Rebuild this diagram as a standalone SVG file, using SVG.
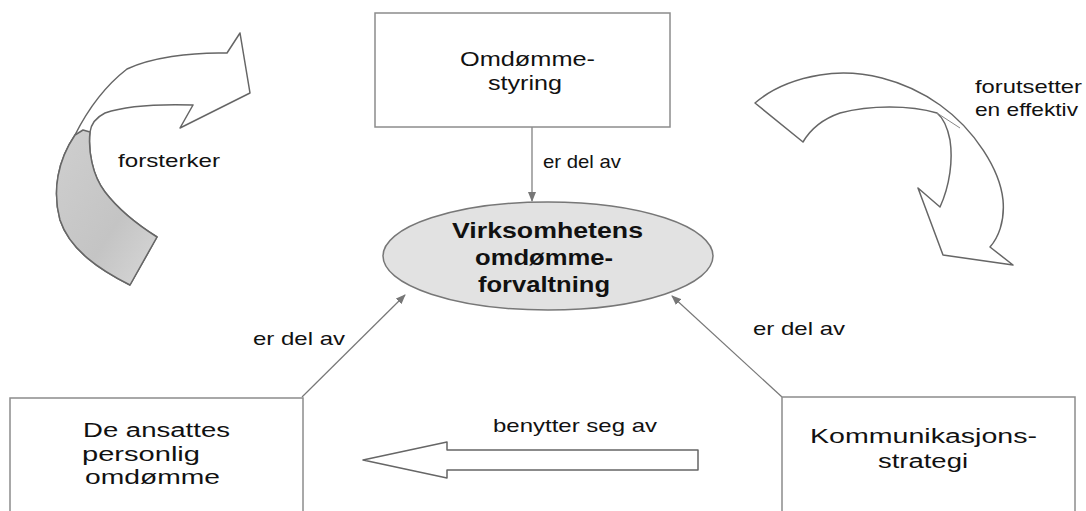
<svg xmlns="http://www.w3.org/2000/svg" width="1086" height="511" viewBox="0 0 1086 511">
<style>
.box{fill:#ffffff;stroke:#8c8c8c;stroke-width:1.5}
.t{font-family:"Liberation Sans",Arial,sans-serif;fill:#111}
.lbl{font-size:19px}
.node{font-size:20px}
.bold{font-size:22px;font-weight:bold}
.con{stroke:#777;stroke-width:1.2;fill:none}
.shape{fill:#ffffff;stroke:#666;stroke-width:1.5;stroke-linejoin:round}
</style>
<defs>
<marker id="ah" markerWidth="10" markerHeight="8" refX="9" refY="4" orient="auto" markerUnits="userSpaceOnUse">
<path d="M0,0 L10,4 L0,8 Z" fill="#777"/>
</marker>
<linearGradient id="g1" x1="0" y1="0" x2="1" y2="1">
<stop offset="0" stop-color="#cfcfcf"/>
<stop offset="0.6" stop-color="#c4c4c4"/>
<stop offset="1" stop-color="#d8d8d8"/>
</linearGradient>
</defs>

<g id="connectors">
<line class="con" x1="532" y1="127" x2="532" y2="201" marker-end="url(#ah)"/>
<line class="con" x1="302" y1="397" x2="405" y2="295" marker-end="url(#ah)"/>
<line class="con" x1="782" y1="397" x2="672" y2="296" marker-end="url(#ah)"/>
<text class="t lbl" x="543" y="168" textLength="78" lengthAdjust="spacingAndGlyphs">er del av</text>
<text class="t lbl" x="253" y="345" textLength="92" lengthAdjust="spacingAndGlyphs">er del av</text>
<text class="t lbl" x="753" y="335" textLength="92" lengthAdjust="spacingAndGlyphs">er del av</text>
</g>

<g id="node-omdommestyring">
<rect class="box" x="375" y="13" width="295" height="114"/>
<text class="t node" x="460" y="66" textLength="135" lengthAdjust="spacingAndGlyphs">Omdømme-</text>
<text class="t node" x="488" y="90" textLength="74" lengthAdjust="spacingAndGlyphs">styring</text>
</g>

<g id="node-forvaltning">
<ellipse cx="548" cy="256" rx="165" ry="54" fill="#e2e2e2" stroke="#777" stroke-width="1.5"/>
<text class="t bold" x="452" y="238" textLength="191" lengthAdjust="spacingAndGlyphs">Virksomhetens</text>
<text class="t bold" x="475" y="265" textLength="138" lengthAdjust="spacingAndGlyphs">omdømme-</text>
<text class="t bold" x="478" y="292" textLength="132" lengthAdjust="spacingAndGlyphs">forvaltning</text>
</g>

<g id="node-ansatte">
<rect class="box" x="10" y="398" width="293" height="130"/>
<text class="t node" x="83" y="437" textLength="147" lengthAdjust="spacingAndGlyphs">De ansattes</text>
<text class="t node" x="82" y="461" textLength="118" lengthAdjust="spacingAndGlyphs">personlig</text>
<text class="t node" x="85" y="484" textLength="135" lengthAdjust="spacingAndGlyphs">omdømme</text>
</g>

<g id="node-kommunikasjon">
<rect class="box" x="782" y="397" width="293" height="130"/>
<text class="t node" x="810" y="443" textLength="227" lengthAdjust="spacingAndGlyphs">Kommunikasjons-</text>
<text class="t node" x="878" y="468" textLength="90" lengthAdjust="spacingAndGlyphs">strategi</text>
</g>

<g id="arrow-benytter">
<path class="shape" d="M363,460 L447,442 L447,450 L698,450 L698,470 L447,470 L447,478 Z"/>
<text class="t lbl" x="493" y="432" textLength="164" lengthAdjust="spacingAndGlyphs">benytter seg av</text>
</g>

<g id="arrow-forsterker">
<path class="shape" d="M227,53 L240,33 L250,93 L180,128 L193,105 C160,104 125,106 105,113 C95,118 91,125 90,132 C88,150 92,175 105,192 C115,205 130,220 157,237 L130,285 C100,270 70,250 60,220 C52,190 58,160 75,135 C85,115 100,90 127,69 C150,58 190,52 227,53 Z"/>
<path d="M90,132 C88,150 92,175 105,192 C115,205 130,220 157,237 L130,285 C100,270 70,250 60,220 C52,190 58,160 75,135 L83,130 Z" fill="url(#g1)" stroke="#666" stroke-width="1.5" stroke-linejoin="round"/>
<text class="t lbl" x="118" y="167" textLength="102" lengthAdjust="spacingAndGlyphs">forsterker</text>
</g>

<g id="arrow-forutsetter">
<path class="shape" d="M755,103 C770,90 790,80 820,75 C860,68 905,80 940,105 C975,130 1000,170 1003,200 C1005,222 998,238 990,247 L1013,265 L943,255 L918,188 L940,207 C950,185 953,160 950,140 C947,125 942,117 937,113 C910,105 870,105 840,113 C820,120 810,130 803,142 Z"/>
<line x1="937" y1="113" x2="960" y2="128" stroke="#888" stroke-width="1"/>
<text class="t lbl" x="975" y="93" textLength="107" lengthAdjust="spacingAndGlyphs">forutsetter</text>
<text class="t lbl" x="975" y="116" textLength="103" lengthAdjust="spacingAndGlyphs">en effektiv</text>
</g>
</svg>
